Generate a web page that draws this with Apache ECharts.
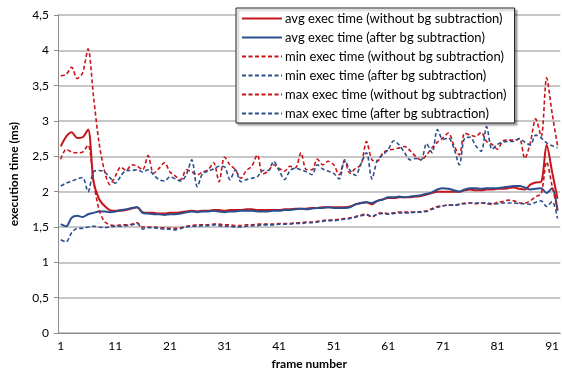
<!DOCTYPE html>
<html>
<head>
<meta charset="utf-8">
<script src="https://cdn.jsdelivr.net/npm/echarts@6/dist/echarts.min.js"></script>
<style>
  html, body { margin: 0; padding: 0; background: #fff; }
  #chart { width: 562px; height: 376px; }
</style>
</head>
<body>
<div id="chart"></div>
<script>
const frames = Array.from({ length: 92 }, (_, i) => String(i + 1))

const avgNoBg = [
  2.64, 2.78, 2.84, 2.76, 2.77, 2.88, 2.15, 1.9, 1.8, 1.74,
  1.73, 1.73, 1.74, 1.76, 1.78, 1.71, 1.70, 1.70, 1.69, 1.69,
  1.70, 1.70, 1.71, 1.72, 1.73, 1.72, 1.73, 1.73, 1.74, 1.74,
  1.73, 1.74, 1.74, 1.74, 1.75, 1.75, 1.74, 1.74, 1.74, 1.74,
  1.74, 1.75, 1.75, 1.76, 1.76, 1.76, 1.77, 1.77, 1.78, 1.78,
  1.78, 1.78, 1.78, 1.79, 1.82, 1.84, 1.85, 1.82, 1.87, 1.89,
  1.91, 1.91, 1.92, 1.92, 1.92, 1.93, 1.94, 1.96, 1.98, 2.0,
  2.0, 2.0, 2.0, 2.0, 2.02, 2.03, 2.02, 2.02, 2.03, 2.03,
  2.04, 2.04, 2.05, 2.06, 2.04, 2.03, 2.1, 2.13, 2.14, 2.66,
  2.28, 1.9
]
const avgBg = [
  1.54, 1.51, 1.63, 1.66, 1.64, 1.68, 1.70, 1.72, 1.72, 1.71,
  1.72, 1.74, 1.75, 1.77, 1.78, 1.70, 1.69, 1.68, 1.68, 1.67,
  1.68, 1.68, 1.69, 1.71, 1.72, 1.71, 1.72, 1.72, 1.73, 1.72,
  1.71, 1.72, 1.72, 1.73, 1.73, 1.73, 1.72, 1.72, 1.72, 1.73,
  1.73, 1.74, 1.74, 1.75, 1.76, 1.75, 1.76, 1.77, 1.77, 1.78,
  1.77, 1.77, 1.77, 1.78, 1.82, 1.84, 1.85, 1.84, 1.87, 1.89,
  1.92, 1.92, 1.93, 1.92, 1.93, 1.94, 1.95, 1.97, 1.99, 2.03,
  2.05, 2.04, 2.02, 2.0, 2.03, 2.05, 2.05, 2.04, 2.05, 2.05,
  2.05, 2.06, 2.07, 2.08, 2.08, 2.06, 2.03, 2.04, 2.05, 1.98,
  2.05, 1.73
]
const minNoBg = [
  2.46, 2.6, 2.56, 2.55, 2.56, 2.66, 2.15, 1.75, 1.58, 1.53,
  1.52, 1.53, 1.53, 1.54, 1.56, 1.50, 1.50, 1.50, 1.49, 1.49,
  1.48, 1.48, 1.49, 1.51, 1.52, 1.53, 1.53, 1.53, 1.54, 1.54,
  1.53, 1.53, 1.52, 1.52, 1.53, 1.53, 1.54, 1.54, 1.54, 1.54,
  1.55, 1.55, 1.55, 1.56, 1.56, 1.57, 1.57, 1.58, 1.59, 1.60,
  1.60, 1.61, 1.62, 1.63, 1.65, 1.67, 1.68, 1.64, 1.69, 1.70,
  1.69, 1.70, 1.71, 1.71, 1.71, 1.71, 1.72, 1.73, 1.76, 1.79,
  1.80, 1.81, 1.81, 1.82, 1.84, 1.84, 1.83, 1.84, 1.83, 1.82,
  1.85, 1.86, 1.88, 1.87, 1.84, 1.84, 1.87, 1.93, 1.97, 2.42,
  2.08, 1.74
]
const minBg = [
  1.32, 1.29, 1.42, 1.48, 1.48, 1.50, 1.51, 1.50, 1.49, 1.50,
  1.51, 1.51, 1.52, 1.53, 1.55, 1.47, 1.49, 1.49, 1.48, 1.47,
  1.47, 1.46, 1.48, 1.50, 1.51, 1.51, 1.52, 1.52, 1.53, 1.52,
  1.51, 1.51, 1.50, 1.50, 1.51, 1.52, 1.52, 1.53, 1.53, 1.53,
  1.54, 1.54, 1.54, 1.55, 1.55, 1.56, 1.56, 1.57, 1.58, 1.59,
  1.59, 1.60, 1.61, 1.62, 1.64, 1.66, 1.67, 1.65, 1.68, 1.69,
  1.68, 1.69, 1.70, 1.70, 1.70, 1.71, 1.71, 1.72, 1.75, 1.78,
  1.80, 1.81, 1.81, 1.82, 1.83, 1.84, 1.84, 1.84, 1.84, 1.83,
  1.83, 1.84, 1.84, 1.84, 1.83, 1.83, 1.82, 1.85, 1.87, 1.79,
  1.86, 1.62
]
const maxNoBg = [
  3.64, 3.66, 3.76, 3.60, 3.68, 4.02, 3.35, 2.70, 2.30, 2.10,
  2.22, 2.35, 2.30, 2.38, 2.36, 2.31, 2.51, 2.26, 2.33, 2.41,
  2.28, 2.22, 2.17, 2.31, 2.28, 2.24, 2.28, 2.31, 2.41, 2.14,
  2.49, 2.38, 2.31, 2.19, 2.30, 2.36, 2.52, 2.25, 2.29, 2.38,
  2.33, 2.29, 2.36, 2.34, 2.55, 2.31, 2.31, 2.46, 2.38, 2.43,
  2.38, 2.24, 2.43, 2.26, 2.33, 2.38, 2.71, 2.45, 2.43, 2.55,
  2.59, 2.60, 2.62, 2.64, 2.58, 2.50, 2.45, 2.52, 2.62, 2.70,
  2.76, 2.83, 2.66, 2.52, 2.83, 2.80, 2.78, 2.84, 2.71, 2.67,
  2.60, 2.72, 2.73, 2.73, 2.75, 2.47, 2.69, 3.03, 2.78, 3.61,
  3.11, 2.65
]
const maxBg = [
  2.08, 2.12, 2.15, 2.18, 2.20, 2.00, 2.28, 2.30, 2.28, 2.20,
  2.12, 2.22, 2.30, 2.30, 2.31, 2.28, 2.31, 2.24, 2.17, 2.15,
  2.21, 2.18, 2.15, 2.24, 2.45, 2.07, 2.26, 2.29, 2.32, 2.36,
  2.35, 2.17, 2.31, 2.14, 2.17, 2.19, 2.21, 2.30, 2.30, 2.43,
  2.30, 2.17, 2.30, 2.33, 2.31, 2.28, 2.24, 2.38, 2.32, 2.29,
  2.26, 2.18, 2.45, 2.30, 2.23, 2.40, 2.55, 2.18, 2.45, 2.52,
  2.60, 2.72, 2.66, 2.55, 2.45, 2.47, 2.45, 2.68, 2.55, 2.88,
  2.74, 2.76, 2.62, 2.38, 2.76, 2.77, 2.65, 2.57, 2.92, 2.60,
  2.67, 2.70, 2.71, 2.71, 2.75, 2.70, 2.66, 2.80, 2.76, 2.69,
  2.65, 2.62
]

const RED = '#C8141B'
const BLUE = '#2B4F8C'
const FONT = 'Lato'

function line(name, data, color, dashed) {
  return {
    name,
    type: 'line',
    data,
    smooth: 0.3,
    symbol: 'none',
    lineStyle: {
      color,
      width: dashed ? 1.6 : 2,
      type: dashed ? [4, 2.5] : 'solid',
    },
    itemStyle: { color },
  }
}

const chart = echarts.init(document.getElementById('chart'))
chart.setOption({
  animation: false,
  textStyle: { fontFamily: FONT },
  grid: { left: 55, right: -1, top: 15, bottom: 43 },
  legend: {
    orient: 'vertical',
    left: 236,
    top: 8,
    padding: [4, 8, 3, 5],
    itemWidth: 40,
    itemHeight: 13,
    itemGap: 6,
    itemStyle: { opacity: 0 },
    backgroundColor: '#fff',
    borderColor: '#222',
    borderWidth: 1,
    shadowColor: 'rgba(0,0,0,0.35)',
    shadowBlur: 2,
    shadowOffsetX: 2,
    shadowOffsetY: 2,
    textStyle: { fontFamily: FONT, fontSize: 13, color: '#000', padding: [0, 0, 0, -2] },
  },
  xAxis: {
    type: 'category',
    data: frames,
    boundaryGap: true,
    name: 'frame number',
    nameLocation: 'middle',
    nameGap: 25,
    nameTextStyle: { fontFamily: FONT, fontWeight: 'bold', fontSize: 12, color: '#000' },
    axisLine: { lineStyle: { color: '#8c8c8c', width: 1 } },
    axisTick: { interval: 9, length: 4, lineStyle: { color: '#8c8c8c' } },
    axisLabel: { interval: 9, color: '#000', fontSize: 12, margin: 7 },
    splitLine: { show: false },
  },
  yAxis: {
    type: 'value',
    min: 0,
    max: 4.5,
    interval: 0.5,
    name: 'execution time (ms)',
    nameLocation: 'middle',
    nameGap: 38,
    nameTextStyle: { fontFamily: FONT, fontWeight: 'bold', fontSize: 12, color: '#000' },
    axisLine: { show: true, lineStyle: { color: '#8c8c8c', width: 1 } },
    axisTick: { show: true, length: 4, lineStyle: { color: '#8c8c8c' } },
    axisLabel: {
      color: '#000',
      fontSize: 12,
      margin: 9,
      formatter: (v) => String(v).replace('.', ','),
    },
    splitLine: { lineStyle: { color: '#b4b4b4', width: 1.5 } },
  },
  series: [
    line('avg exec time (without bg subtraction)', avgNoBg, RED, false),
    line('avg exec time (after bg subtraction)', avgBg, BLUE, false),
    line('min exec time (without bg subtraction)', minNoBg, RED, true),
    line('min exec time (after bg subtraction)', minBg, BLUE, true),
    line('max exec time (without bg subtraction)', maxNoBg, RED, true),
    line('max exec time (after bg subtraction)', maxBg, BLUE, true),
  ],
})
</script>
</body>
</html>
